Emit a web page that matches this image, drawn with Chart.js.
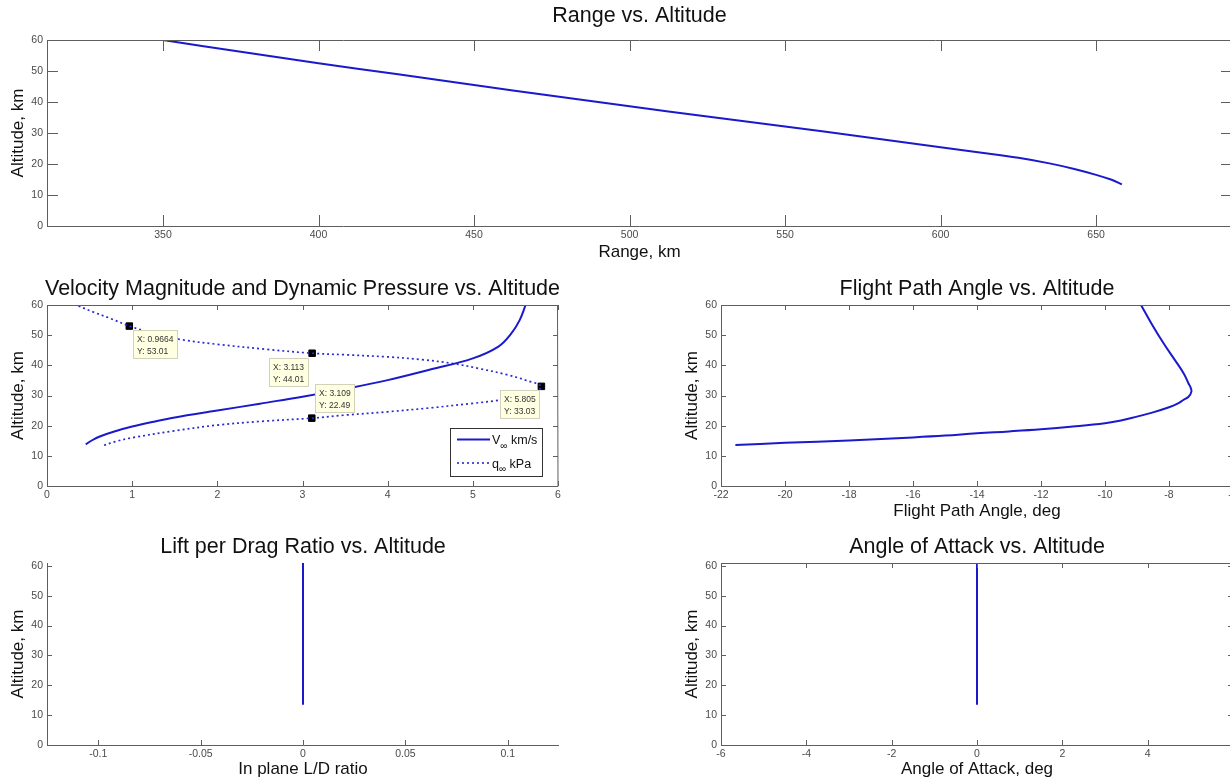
<!DOCTYPE html>
<html>
<head>
<meta charset="utf-8">
<title>Trajectory vs. Altitude</title>
<script src="https://cdn.jsdelivr.net/npm/chart.js@4.4.1/dist/chart.umd.min.js"></script>
<style>
  html, body { margin: 0; padding: 0; background: #fff; overflow: hidden; width: 1230px; height: 779px; }
  canvas { position: absolute; }
</style>
</head>
<body>
<canvas id="rangePlot"></canvas>
<canvas id="velPlot"></canvas>
<canvas id="fpaPlot"></canvas>
<canvas id="ldPlot"></canvas>
<canvas id="aoaPlot"></canvas>
<script>
// ---- trajectory data (altitude in km) ----
const rangeKm  = [350, 375, 400, 425, 450, 475, 500, 525, 550, 575, 600, 612, 625, 635, 643, 650, 655, 658.3];
const rangeAlt = [60, 56.2, 52.5, 49, 45.5, 42, 38.6, 35.3, 32.1, 28.8, 25.4, 23.8, 22, 20.2, 18.4, 16.5, 14.9, 13.45];

const velKms = [0.455, 0.52, 0.62, 0.82, 1.0, 1.25, 1.5, 2.0, 2.5, 3.0, 3.5, 4.0, 4.5, 5.0, 5.3, 5.45, 5.55, 5.62];
const velAlt = [13.8, 15.0, 16.4, 18.3, 19.7, 21.3, 22.7, 25.0, 27.3, 29.6, 32.2, 35.1, 38.6, 42.3, 46.2, 50.5, 55.0, 60.0];

const qKpa = [0.67, 0.8, 1.0, 1.5, 2.0, 2.5, 3.109, 3.5, 4.0, 4.5, 5.0, 5.3, 5.55, 5.72, 5.805,
              5.64, 5.4, 5.08, 4.77, 4.4, 4.0, 3.5, 3.113, 2.58, 1.99, 1.56, 1.25, 0.9664, 0.74, 0.55, 0.36];
const qAlt = [13.5, 14.7, 16.0, 18.3, 20.2, 21.4, 22.49, 23.5, 24.6, 25.9, 27.4, 28.4, 29.7, 31.0, 33.03,
              34.9, 36.9, 38.9, 40.6, 41.9, 42.8, 43.5, 44.01, 45.3, 47.0, 48.6, 50.6, 53.01, 55.6, 57.6, 59.8];

// data tips placed on the q curve
const tipX = [0.9664, 3.113, 3.109, 5.805];
const tipY = [53.01, 44.01, 22.49, 33.03];

const fpaDeg = [-21.55, -20, -18, -16, -15, -14, -13, -12, -11, -10, -9.5, -9, -8.5, -8, -7.75, -7.55, -7.39, -7.3,
                -7.33, -7.39, -7.54, -7.82, -8.17, -8.55, -8.875];
const fpaAlt = [13.6, 14.3, 15.1, 16.1, 16.7, 17.5, 18.1, 18.8, 19.7, 20.8, 21.7, 23.0, 24.4, 26.1, 27.2, 28.5, 29.6, 31.3,
                32.8, 34.0, 37.3, 41.8, 47.3, 53.9, 60.0];

const ldRatio = [0, 0];
const ldAlt   = [13.45, 60.96];
const aoaDeg  = [0, 0];
const aoaAlt  = [13.45, 60.96];

// ---- tick values ----
const altTicks   = [0, 10, 20, 30, 40, 50, 60];
const rangeTicks = [350, 400, 450, 500, 550, 600, 650];
const velTicks   = [0, 1, 2, 3, 4, 5, 6];
const fpaTicks   = [-22, -20, -18, -16, -14, -12, -10, -8, -6];
const ldTicks    = [-0.1, -0.05, 0, 0.05, 0.1];
const aoaTicks   = [-6, -4, -2, 0, 2, 4, 6];

// where each data tip box sits relative to its marker
const tipPlace = [
  { side: 'right', dx: 4, below: true,  dy: 4 },
  { side: 'left',  dx: 3, below: true,  dy: 5 },
  { side: 'right', dx: 3, below: false, dy: 5 },
  { side: 'left',  dx: 1, below: true,  dy: 4 }
];

const FONT = '"Liberation Sans", Arial, Helvetica, sans-serif';
const BLUE = '#1a1acc';
const AXIS = '#5e5e5e';
Chart.defaults.font.family = FONT;
Chart.defaults.color = '#4a4a4a';

const pts = (xs, ys) => xs.map((x, i) => ({ x: x, y: ys[i] }));

// box + inward ticks, matlab style
const matlabAxes = {
  id: 'matlabAxes',
  afterDatasetsDraw(chart, args, opts) {
    const { ctx, chartArea: a, scales: { x, y } } = chart;
    const tl = opts.tickLength;
    ctx.save();
    ctx.strokeStyle = AXIS;
    ctx.lineWidth = 1;
    ctx.beginPath();
    x.ticks.forEach(t => {
      const px = Math.round(x.getPixelForValue(t.value)) + 0.5;
      ctx.moveTo(px, a.bottom); ctx.lineTo(px, a.bottom - tl);
      if (opts.box) { ctx.moveTo(px, a.top); ctx.lineTo(px, a.top + tl); }
    });
    y.ticks.forEach(t => {
      const py = Math.round(y.getPixelForValue(t.value)) + 0.5;
      ctx.moveTo(a.left, py); ctx.lineTo(a.left + tl, py);
      if (opts.box) { ctx.moveTo(a.right, py); ctx.lineTo(a.right - tl, py); }
    });
    ctx.moveTo(a.left + 0.5, a.top);
    ctx.lineTo(a.left + 0.5, a.bottom + 0.5);
    ctx.lineTo(a.right, a.bottom + 0.5);
    if (opts.box) {
      ctx.lineTo(a.right - 0.5, a.top + 0.5);
      ctx.lineTo(a.left + 0.5, a.top + 0.5);
    }
    ctx.stroke();
    ctx.restore();
  }
};

const plotTitle = {
  id: 'plotTitle',
  afterDraw(chart, args, opts) {
    const { ctx, chartArea: a } = chart;
    ctx.save();
    ctx.font = '21.5px ' + FONT;
    ctx.fillStyle = '#111';
    ctx.textAlign = 'center';
    ctx.textBaseline = 'alphabetic';
    ctx.fillText(opts.text, (a.left + a.right) / 2, a.top - opts.gap);
    ctx.restore();
  }
};

const dataTips = {
  id: 'dataTips',
  afterDraw(chart) {
    const { ctx, scales: { x, y } } = chart;
    ctx.save();
    ctx.font = '8.5px ' + FONT;
    ctx.lineWidth = 1;
    tipX.forEach((vx, i) => {
      const px = x.getPixelForValue(vx), py = y.getPixelForValue(tipY[i]);
      const l1 = 'X: ' + vx, l2 = 'Y: ' + tipY[i];
      const w = Math.ceil(Math.max(ctx.measureText(l1).width, ctx.measureText(l2).width)) + 8;
      const h = 29;
      const p = tipPlace[i];
      const bx = Math.round(p.side === 'right' ? px + p.dx : px - p.dx - w);
      const by = Math.round(p.below ? py + p.dy : py - p.dy - h);
      ctx.fillStyle = '#ffffe1';
      ctx.fillRect(bx, by, w, h);
      ctx.strokeStyle = '#d2d2bc';
      ctx.strokeRect(bx + 0.5, by + 0.5, w - 1, h - 1);
      ctx.fillStyle = '#333';
      ctx.fillText(l1, bx + 4, by + 12);
      ctx.fillText(l2, bx + 4, by + 23.5);
    });
    ctx.restore();
  }
};

const vqLegend = {
  id: 'vqLegend',
  afterDraw(chart) {
    const { ctx, chartArea: a } = chart;
    const w = 93, h = 49;
    const bx = a.right - 15 - w, by = a.bottom - 9 - h;
    ctx.save();
    ctx.fillStyle = '#fff';
    ctx.fillRect(bx, by, w, h);
    ctx.strokeStyle = '#333';
    ctx.lineWidth = 1;
    ctx.strokeRect(bx + 0.5, by + 0.5, w - 1, h - 1);
    const rows = [
      { sym: 'V', unit: 'km/s', dash: [], lw: 2, y: by + 11.5 },
      { sym: 'q', unit: 'kPa', dash: [2, 3], lw: 1.7, y: by + 35 }
    ];
    rows.forEach(r => {
      ctx.strokeStyle = BLUE;
      ctx.lineWidth = r.lw;
      ctx.setLineDash(r.dash);
      ctx.beginPath();
      ctx.moveTo(bx + 7, r.y);
      ctx.lineTo(bx + 40, r.y);
      ctx.stroke();
      ctx.setLineDash([]);
      ctx.fillStyle = '#111';
      ctx.font = '12.5px ' + FONT;
      let tx = bx + 42;
      ctx.fillText(r.sym, tx, r.y + 4.5);
      tx += ctx.measureText(r.sym).width;
      ctx.font = '10px ' + FONT;
      ctx.fillText('\u221e', tx, r.y + 9);
      tx += ctx.measureText('\u221e').width + 3.5;
      ctx.font = '12.5px ' + FONT;
      ctx.fillText(r.unit, tx, r.y + 4.5);
    });
    ctx.restore();
  }
};

function line(xs, ys, extra) {
  return Object.assign({
    data: pts(xs, ys),
    showLine: true,
    borderColor: BLUE,
    borderWidth: 2,
    pointRadius: 0,
    tension: 0.4
  }, extra || {});
}

const PAD_L = 47, PAD_T = 40, PAD_R = 14;

function makePlot(id, area, cfg) {
  const canvas = document.getElementById(id);
  const xh = cfg.xh;
  canvas.style.left = (area.l - PAD_L) + 'px';
  canvas.style.top = (area.t - PAD_T) + 'px';
  canvas.width = area.r - area.l + PAD_L + PAD_R;
  canvas.height = area.b - area.t + PAD_T + xh;
  return new Chart(canvas, {
    type: 'scatter',
    data: { datasets: cfg.datasets },
    options: {
      responsive: false,
      animation: false,
      events: [],
      layout: { padding: { left: 0, top: PAD_T, right: PAD_R, bottom: 0 } },
      plugins: {
        legend: { display: false },
        tooltip: { enabled: false },
        matlabAxes: { tickLength: cfg.tickLen, box: cfg.box },
        plotTitle: { text: cfg.title, gap: cfg.titleGap }
      },
      scales: {
        x: {
          type: 'linear',
          position: 'bottom',
          min: cfg.xMin, max: cfg.xMax,
          grid: { display: false, drawTicks: false, tickLength: 0 },
          border: { display: false },
          ticks: { padding: 3, autoSkip: false, maxRotation: 0, font: { size: 10.5 }, callback: v => String(v) },
          afterBuildTicks: s => { s.ticks = cfg.xTicks.map(v => ({ value: v })); },
          afterFit: s => { s.height = xh; },
          title: { display: !!cfg.xTitle, text: cfg.xTitle || '', color: '#111', font: { size: 17 }, padding: 0 }
        },
        y: {
          type: 'linear',
          position: 'left',
          min: 0, max: cfg.yMax,
          grid: { display: false, drawTicks: false, tickLength: 0 },
          border: { display: false },
          ticks: { padding: 4, autoSkip: false, font: { size: 10.5 }, callback: v => String(v) },
          afterBuildTicks: s => { s.ticks = altTicks.map(v => ({ value: v })); },
          afterFit: s => { s.width = PAD_L; },
          title: { display: true, text: 'Altitude, km', color: '#111', font: { size: 17 }, padding: { top: 8.5, bottom: 0 } }
        }
      }
    },
    plugins: [matlabAxes, plotTitle].concat(cfg.extra || [])
  });
}

makePlot('rangePlot', { l: 47, t: 40, r: 1232, b: 226 }, {
  title: 'Range vs. Altitude', titleGap: 18.5,
  xMin: 312.7, xMax: 693.7, yMax: 60, xTicks: rangeTicks,
  xTitle: 'Range, km', xh: 37, tickLen: 11, box: true,
  datasets: [line(rangeKm, rangeAlt)]
});

makePlot('velPlot', { l: 47, t: 305, r: 558, b: 486 }, {
  title: 'Velocity Magnitude and Dynamic Pressure vs. Altitude', titleGap: 10,
  xMin: 0, xMax: 6, yMax: 60, xTicks: velTicks,
  xTitle: null, xh: 20, tickLen: 5, box: true,
  datasets: [
    line(velKms, velAlt, { label: 'V km/s' }),
    line(qKpa, qAlt, { label: 'q kPa', borderWidth: 1.7, borderDash: [2, 3], borderColor: '#2a2ad0', tension: 0.35 }),
    { data: pts(tipX, tipY), showLine: false, pointStyle: 'rect', pointRadius: 4.6,
      pointBackgroundColor: '#000', pointBorderColor: '#000', pointBorderWidth: 1 }
  ],
  extra: [dataTips, vqLegend]
});

makePlot('fpaPlot', { l: 721, t: 305, r: 1233, b: 486 }, {
  title: 'Flight Path Angle vs. Altitude', titleGap: 10,
  xMin: -22, xMax: -6, yMax: 60, xTicks: fpaTicks,
  xTitle: 'Flight Path Angle, deg', xh: 36, tickLen: 5, box: true,
  datasets: [line(fpaDeg, fpaAlt)]
});

makePlot('ldPlot', { l: 47, t: 563, r: 559, b: 745 }, {
  title: 'Lift per Drag Ratio vs. Altitude', titleGap: 10,
  xMin: -0.125, xMax: 0.125, yMax: 60.96, xTicks: ldTicks,
  xTitle: 'In plane L/D ratio', xh: 35, tickLen: 5, box: false,
  datasets: [line(ldRatio, ldAlt, { tension: 0 })]
});

makePlot('aoaPlot', { l: 721, t: 563, r: 1233, b: 745 }, {
  title: 'Angle of Attack vs. Altitude', titleGap: 10,
  xMin: -6, xMax: 6, yMax: 60.96, xTicks: aoaTicks,
  xTitle: 'Angle of Attack, deg', xh: 35, tickLen: 5, box: true,
  datasets: [line(aoaDeg, aoaAlt, { tension: 0 })]
});
</script>
</body>
</html>
